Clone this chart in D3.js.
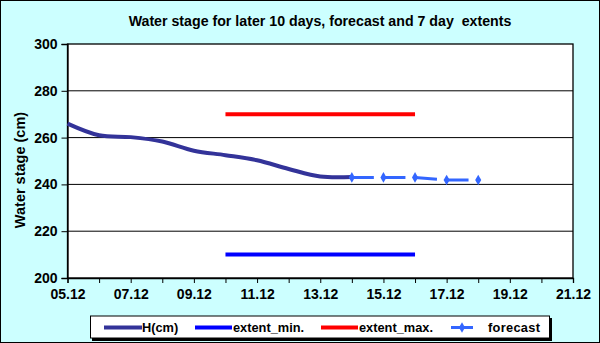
<!DOCTYPE html>
<meta charset="utf-8">
<script src="https://d3js.org/d3.v7.min.js"></script>
<style>
  body { margin: 0; font-family: "Liberation Sans", Arial, sans-serif; }
  svg { display: block; }
</style>
<div id="chart"></div>
<script>

// data
var hDates = ["05.12","06.12","07.12","08.12","09.12","10.12","11.12","12.12","13.12","14.12"];
var hValues = [266, 261, 260.2, 258.3, 254.4, 252.5, 250.3, 246.6, 243.4, 243.2];

var forecastDates = ["14.12","15.12","16.12","17.12","18.12"];
var forecastValues = [243, 243, 243, 241.9, 241.9];

var extentDates = ["10.12","16.12"];
var extentMin = [210, 210];
var extentMax = [270, 270];

var xTickLabels = ["05.12","07.12","09.12","11.12","13.12","15.12","17.12","19.12","21.12"];
var yTicks = [200, 220, 240, 260, 280, 300];

var width = 600, height = 343
var margin = {top: 44, right: 27, bottom: 65, left: 67.5}

var day = function(s){ return +s.split(".")[0] }

var svg = d3.select("#chart").append("svg")
  .attr("width", width)
  .attr("height", height)

// background + frame
svg.append("rect")
  .attr("x", 0.5).attr("y", 0.5)
  .attr("width", width - 1).attr("height", height - 1)
  .attr("fill", "#CCFFFF")
  .attr("stroke", "black")

var x = d3.scaleLinear()
  .domain([5, 21])
  .range([margin.left, width - margin.right])

var y = d3.scaleLinear()
  .domain([200, 300])
  .range([height - margin.bottom, margin.top])

// plot area
svg.append("rect")
  .attr("x", x(5)).attr("y", y(300))
  .attr("width", x(21) - x(5)).attr("height", y(200) - y(300))
  .attr("fill", "white")
  .attr("stroke", "black")
  .attr("stroke-width", 1.3)

// gridlines
svg.append("g")
  .selectAll("line")
  .data(yTicks.slice(1, -1))
  .enter()
  .append("line")
    .attr("x1", x(5)).attr("x2", x(21))
    .attr("y1", function(d){ return y(d) })
    .attr("y2", function(d){ return y(d) })
    .attr("stroke", "black")

// y axis
var yAxis = svg.append("g")
  .attr("transform", "translate(" + x(5) + ",0)")
  .call(d3.axisLeft(y).tickValues(yTicks).tickSize(6).tickPadding(4))
yAxis.select(".domain").attr("stroke", "black").attr("stroke-width", 1.3)
yAxis.selectAll("text")
  .attr("font-size", "14px")
  .attr("font-weight", "bold")
  .attr("font-family", "Liberation Sans, Arial, sans-serif")
  .attr("fill", "black")

// x axis, ticks every day, labels every 2 days
var xAxis = svg.append("g")
  .attr("transform", "translate(0," + y(200) + ")")
  .call(d3.axisBottom(x).tickValues(d3.range(5, 22)).tickSize(5).tickPadding(6)
    .tickFormat(function(d){
      var lab = xTickLabels.find(function(s){ return day(s) === d })
      return lab || ""
    }))
xAxis.select(".domain").attr("stroke", "black").attr("stroke-width", 1.3)
xAxis.selectAll("text")
  .attr("font-size", "14px")
  .attr("font-weight", "bold")
  .attr("font-family", "Liberation Sans, Arial, sans-serif")
  .attr("fill", "black")

// extents
var line = d3.line()
  .x(function(d){ return x(d[0]) })
  .y(function(d){ return y(d[1]) })

svg.append("path")
  .datum(extentDates.map(function(s, i){ return [day(s), extentMax[i]] }))
  .attr("d", line)
  .attr("fill", "none")
  .attr("stroke", "#FF0000")
  .attr("stroke-width", 4)

svg.append("path")
  .datum(extentDates.map(function(s, i){ return [day(s), extentMin[i]] }))
  .attr("d", line)
  .attr("fill", "none")
  .attr("stroke", "#0000FF")
  .attr("stroke-width", 4)

// H(cm), smoothed like the spreadsheet line
svg.append("path")
  .datum(hDates.map(function(s, i){ return [day(s), hValues[i]] }))
  .attr("d", line.curve(d3.curveCardinal.tension(0)))
  .attr("fill", "none")
  .attr("stroke", "#333399")
  .attr("stroke-width", 4)

// forecast
var fData = forecastDates.map(function(s, i){ return [day(s), forecastValues[i]] })
svg.append("path")
  .datum(fData)
  .attr("d", d3.line().x(function(d){ return x(d[0]) }).y(function(d){ return y(d[1]) }))
  .attr("fill", "none")
  .attr("stroke", "#3366FF")
  .attr("stroke-width", 3)
  .attr("stroke-dasharray", "22 9.6")

svg.append("g")
  .selectAll("path")
  .data(fData)
  .enter()
  .append("path")
    .attr("transform", function(d){ return "translate(" + x(d[0]) + "," + y(d[1]) + ")" })
    .attr("d", d3.symbol().type(d3.symbolDiamond).size(32))
    .attr("fill", "#3366FF")

// y title
svg.append("text")
  .attr("transform", "translate(24.5,170) rotate(-90)")
  .attr("text-anchor", "middle")
  .attr("font-size", "14.5px")
  .attr("font-weight", "bold")
  .text("Water stage (cm)")

// title
svg.append("text")
  .attr("x", 320)
  .attr("y", 26)
  .attr("text-anchor", "middle")
  .attr("font-size", "14.2px")
  .attr("font-weight", "bold")
  .style("white-space", "pre")
  .text("Water stage for later 10 days, forecast and 7 day  extents")

// legend
var lg = svg.append("g")
lg.append("rect")
  .attr("x", 92).attr("y", 318)
  .attr("width", 460).attr("height", 23)
  .attr("fill", "black")
lg.append("rect")
  .attr("x", 90.5).attr("y", 316)
  .attr("width", 459).attr("height", 22)
  .attr("fill", "white")
  .attr("stroke", "black")

var legendItems = [
  {name: "H(cm)", color: "#333399", x1: 104, x2: 142, tx: 142, w: 4},
  {name: "extent_min.", color: "#0000FF", x1: 195, x2: 232, tx: 233, w: 4},
  {name: "extent_max.", color: "#FF0000", x1: 321, x2: 358, tx: 359, w: 4},
  {name: "forecast", color: "#3366FF", x1: 451, x2: 473, tx: 488, w: 3}
]

var items = lg.selectAll(".item")
  .data(legendItems)
  .enter()
  .append("g")

items.append("line")
  .attr("x1", function(d){ return d.x1 })
  .attr("x2", function(d){ return d.x2 })
  .attr("y1", 327.5).attr("y2", 327.5)
  .attr("stroke", function(d){ return d.color })
  .attr("stroke-width", function(d){ return d.w })

lg.append("path")
  .attr("transform", "translate(462,327.5)")
  .attr("d", d3.symbol().type(d3.symbolDiamond).size(32))
  .attr("fill", "#3366FF")

items.append("text")
  .attr("x", function(d){ return d.tx })
  .attr("y", 332)
  .attr("font-size", "12.8px")
  .attr("font-weight", "bold")
  .attr("letter-spacing", function(d){ return d.name === "forecast" ? "0.3px" : "0px" })
  .text(function(d){ return d.name })

</script>
